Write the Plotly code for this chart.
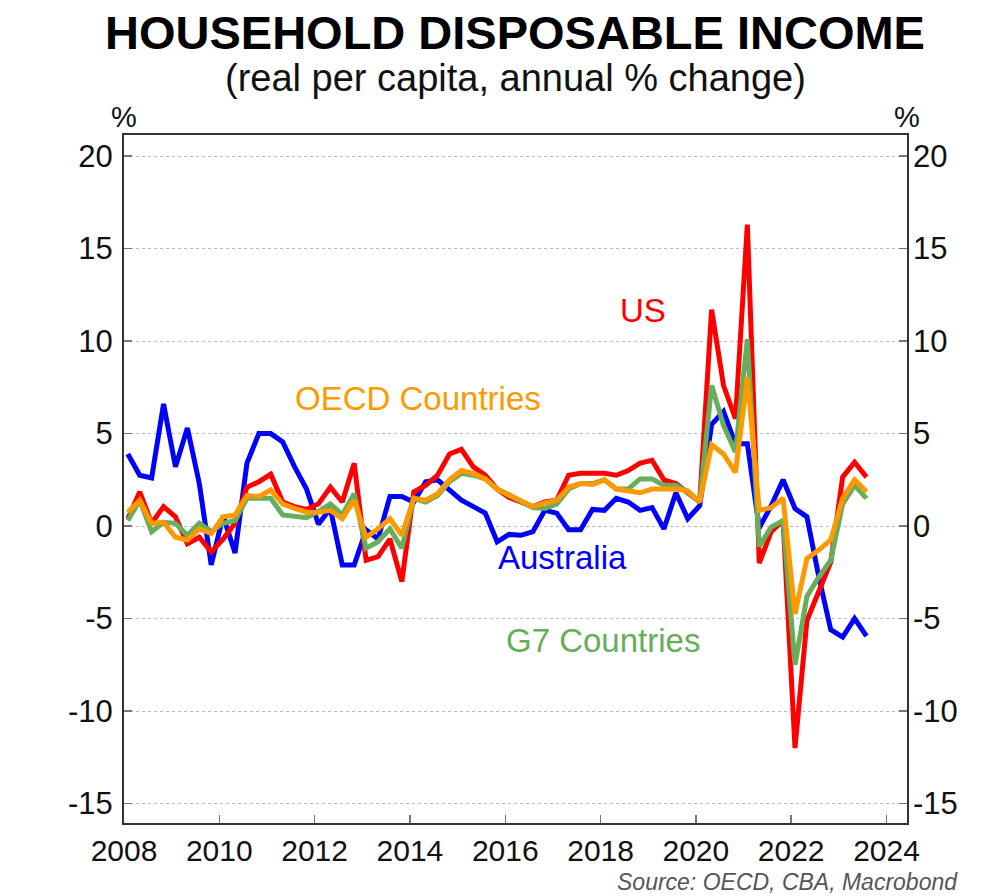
import plotly.graph_objects as go

# Quarterly observations, 2008 Q1 .. 2023 Q3
start_year = 2008
n_q = 63
quarters = [start_year + 0.08 + 0.25 * i for i in range(n_q)]

australia = [3.9, 2.75, 2.6, 6.6, 3.2, 5.3, 2.3, -2.1, 0.55, -1.45,
             3.4, 5.0, 5.0, 4.55, 3.2, 2.0, 0.1, 0.95, -2.1, -2.1,
             -0.2, -0.7, 1.6, 1.6, 1.3, 2.4, 2.5, 1.95, 1.4, 1.05,
             0.7, -0.85, -0.45, -0.5, -0.3, 0.85, 0.7, -0.2, -0.2, 0.9,
             0.85, 1.5, 1.3, 0.85, 1.0, -0.15, 1.8, 0.4, 1.1, 5.5,
             6.2, 4.45, 4.45, -0.1, 1.1, 2.5, 0.95, 0.5, -2.75, -5.6,
             -6.0, -5.0, -5.95]

us = [0.4, 1.85, 0.15, 1.05, 0.5, -0.95, -0.6, -1.4, -0.7, 0.15,
      2.1, 2.4, 2.8, 1.3, 1.05, 0.9, 1.2, 2.1, 1.3, 3.4,
      -1.85, -1.65, -0.7, -3.0, 1.85, 2.2, 2.75, 3.9, 4.15, 3.2,
      2.75, 2.0, 1.55, 1.3, 1.05, 1.3, 1.4, 2.75, 2.85, 2.85,
      2.85, 2.75, 3.0, 3.4, 3.55, 2.5, 2.3, 1.8, 1.3, 11.7,
      7.6, 5.8, 16.3, -2.0, -0.3, 0.3, -12.0, -5.1, -3.5, -1.95,
      2.65, 3.45, 2.65]

g7 = [0.3, 1.4, -0.3, 0.2, 0.15, -0.5, 0.15, -0.3, 0.15, 0.3,
      1.5, 1.5, 1.5, 0.6, 0.5, 0.45, 0.8, 1.2, 0.6, 1.75,
      -1.2, -0.85, -0.15, -1.2, 1.5, 1.3, 1.65, 2.4, 2.85, 2.75,
      2.55, 2.0, 1.65, 1.3, 1.0, 0.95, 1.2, 2.0, 2.3, 2.3,
      2.5, 2.0, 2.0, 2.55, 2.55, 2.2, 2.2, 1.85, 1.3, 7.6,
      5.45, 4.0, 10.1, -1.1, -0.05, 0.3, -7.5, -3.8, -2.75, -1.85,
      1.2, 2.2, 1.5]

oecd = [0.75, 1.4, 0.15, 0.2, -0.6, -0.75, -0.15, -0.4, 0.5, 0.6,
        1.65, 1.6, 1.95, 1.2, 0.95, 0.75, 0.75, 0.85, 0.4, 1.4,
        -0.6, -0.15, 0.4, -0.5, 1.5, 1.4, 1.75, 2.5, 3.0, 2.85,
        2.55, 2.0, 1.7, 1.4, 1.05, 1.25, 1.4, 2.1, 2.3, 2.25,
        2.5, 2.0, 1.9, 1.8, 2.0, 2.0, 2.0, 1.9, 1.3, 4.4,
        3.9, 2.9, 8.05, 0.85, 1.0, 1.5, -4.75, -1.75, -1.3, -0.75,
        1.5, 2.5, 1.85]

x_ticks = list(range(2008, 2025, 2))
y_ticks = [-15, -10, -5, 0, 5, 10, 15, 20]

BLUE = "#0000FF"
RED = "#FF0000"
GREEN = "#66AE5A"
ORANGE = "#FF9900"
FONT = "Liberation Sans, Arial, sans-serif"

fig = go.Figure()
for name, vals, col in [("Australia", australia, BLUE),
                        ("US", us, RED),
                        ("G7 Countries", g7, GREEN),
                        ("OECD Countries", oecd, ORANGE)]:
    fig.add_trace(go.Scatter(x=quarters, y=vals, mode="lines", name=name,
                             line=dict(color=col, width=5),
                             showlegend=False, hoverinfo="skip"))

# invisible trace so the right-hand axis is drawn
fig.add_trace(go.Scatter(x=quarters, y=us, mode="lines", yaxis="y2",
                         line=dict(width=0), opacity=0,
                         showlegend=False, hoverinfo="skip"))

yr = [-16.05, 21.14]
tick_common = dict(ticks="inside", ticklen=8, tickcolor="#777777", tickwidth=1.5)
yfont = dict(family=FONT, size=31, color="#111111")
xfont = dict(family=FONT, size=30, color="#111111")

PL, PT, PW, PH = 124, 135, 783, 688
W, H = 1000, 896

fig.update_layout(
    width=W, height=H,
    margin=dict(l=PL, r=W - PL - PW, t=PT, b=H - PT - PH, autoexpand=False),
    paper_bgcolor="white", plot_bgcolor="white",
    xaxis=dict(range=[2008, 2024.43], tickvals=x_ticks,
               ticktext=[str(v) for v in x_ticks], tickfont=xfont,
               showgrid=False, zeroline=False,
               showline=True, linecolor="#333333", linewidth=2, mirror=True,
               ticklabelstandoff=0, **tick_common),
    yaxis=dict(range=yr, tickvals=y_ticks,
               ticktext=[str(v) for v in y_ticks], tickfont=yfont,
               showgrid=True, gridcolor="#BBBBBB", gridwidth=1, griddash="dot",
               zeroline=False,
               showline=True, linecolor="#333333", linewidth=2, mirror=True,
               ticklabelstandoff=3, **tick_common),
    yaxis2=dict(range=yr, tickvals=y_ticks,
                ticktext=[str(v) for v in y_ticks], tickfont=yfont,
                overlaying="y", side="right", matches="y",
                showgrid=False, zeroline=False, showline=False,
                ticklabelstandoff=5, **tick_common),
)

def px_x(p):
    return (p - PL) / PW

def px_y(p):
    return (PT + PH - p) / PH

annots = [
    ("<b>HOUSEHOLD DISPOSABLE INCOME</b>", 515, 32, 47, "#000000"),
    ("(real per capita, annual % change)", 515, 78, 38, "#111111"),
    ("%", 124, 117, 29, "#111111"),
    ("%", 907, 117, 29, "#111111"),
    ("US", 643, 310, 33, RED),
    ("OECD Countries", 418, 398, 33, ORANGE),
    ("Australia", 562, 557, 33, BLUE),
    ("G7 Countries", 603, 640, 33, GREEN),
]
for text, x, y, size, col in annots:
    fig.add_annotation(text=text, x=px_x(x), y=px_y(y), xref="paper", yref="paper",
                       xanchor="center", yanchor="middle", showarrow=False,
                       font=dict(family=FONT, size=size, color=col))

fig.add_annotation(text="<i>Source: OECD, CBA, Macrobond</i>",
                   x=px_x(960), y=px_y(882), xref="paper", yref="paper",
                   xanchor="right", yanchor="middle", showarrow=False,
                   font=dict(family=FONT, size=23, color="#555555"))

fig.write_html("out.html",
               config={"displayModeBar": False, "staticPlot": True},
               post_script="document.body.style.margin='0';document.body.style.overflow='hidden';")
